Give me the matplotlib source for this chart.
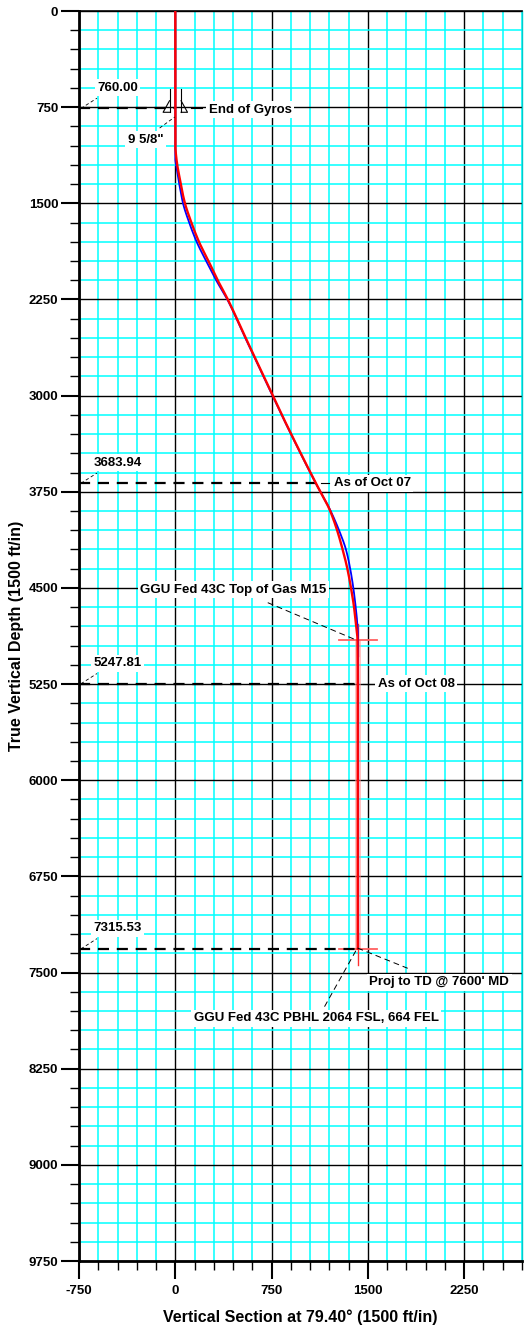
import matplotlib
matplotlib.use("Agg")
import matplotlib.pyplot as plt
from matplotlib.ticker import MultipleLocator, FixedLocator
import numpy as np

plt.rcParams['font.family'] = ['Liberation Sans', 'DejaVu Sans']
plt.rcParams['font.weight'] = 'bold'
plt.rcParams['axes.unicode_minus'] = False

# ---- data ----
actual_tvd = [0, 760, 1050, 1120, 1200, 1300, 1400, 1500, 1650, 1800, 1950, 2100, 2250, 2550,
              3000, 3165, 3684, 3892, 4050, 4204, 4350, 4504, 4650, 4750, 4907, 5248, 6000, 7000, 7315]
actual_vs = [0, 0, 0, 5, 15, 33, 52, 75, 125, 184, 258, 330, 409, 548,
             760, 837, 1095, 1203, 1260, 1304, 1340, 1369, 1392, 1403, 1419, 1421, 1421, 1421, 1421]

plan_tvd = [0, 760, 1150, 1200, 1300, 1400, 1500, 1650, 1800, 1950, 2100, 2250, 2550,
            3000, 3165, 3684, 3892, 4050, 4204, 4350, 4504, 4650, 4750, 4907, 5248, 6000, 7000, 7315]
plan_vs = [0, 0, 0, 6, 22, 40, 60, 108, 166, 240, 318, 405, 545,
           757, 835, 1094, 1206, 1275, 1330, 1362, 1387, 1405, 1415, 1423, 1424, 1424, 1424, 1424]

targets_tvd = [4907, 7315]
target_vs = 1421
target_names = ["GGU Fed 43C Top of Gas M15", "GGU Fed 43C PBHL 2064 FSL, 664 FEL"]

marker_tvd = [760.00, 3683.94, 5247.81, 7315.53]
marker_vs = [0, 1095, 1421, 1421]
marker_labels = ["760.00", "3683.94", "5247.81", "7315.53"]
marker_notes = ["End of Gyros", "As of Oct 07", "As of Oct 08", "Proj to TD @ 7600' MD"]

casing_tvd = 760
casing_label = '9 5/8"'

x_ticks = [-750, 0, 750, 1500, 2250]
y_ticks = [0, 750, 1500, 2250, 3000, 3750, 4500, 5250, 6000, 6750, 7500, 8250, 9000, 9750]


def pchip(x, y, xn):
    x = np.asarray(x, float)
    y = np.asarray(y, float)
    h = np.diff(x)
    d = np.diff(y) / h
    m = np.zeros_like(y)
    for k in range(1, len(x) - 1):
        if d[k - 1] * d[k] > 0:
            w1 = 2 * h[k] + h[k - 1]
            w2 = h[k] + 2 * h[k - 1]
            m[k] = (w1 + w2) / (w1 / d[k - 1] + w2 / d[k])
    m[0] = d[0]
    m[-1] = d[-1]
    idx = np.clip(np.searchsorted(x, xn) - 1, 0, len(x) - 2)
    t = (xn - x[idx]) / h[idx]
    h00 = 2 * t**3 - 3 * t**2 + 1
    h10 = t**3 - 2 * t**2 + t
    h01 = -2 * t**3 + 3 * t**2
    h11 = t**3 - t**2
    return h00 * y[idx] + h10 * h[idx] * m[idx] + h01 * y[idx + 1] + h11 * h[idx] * m[idx + 1]


W, H = 524, 1332
fig = plt.figure(figsize=(W / 100, H / 100), dpi=100)
ax = fig.add_axes([79 / W, 1 - 1261 / H, (522 - 79) / W, (1261 - 11) / H])

ax.set_xlim(-750, 2700)
ax.set_ylim(9750, 0)

ax.xaxis.set_major_locator(FixedLocator(x_ticks))
ax.xaxis.set_minor_locator(MultipleLocator(150))
ax.yaxis.set_major_locator(FixedLocator(y_ticks))
ax.yaxis.set_minor_locator(MultipleLocator(150))

ax.set_axisbelow(True)
ax.grid(which='minor', color='#00ffff', lw=1.1)
ax.grid(which='major', color='black', lw=1.0)
ax.tick_params(which='major', direction='out', length=13, width=1.5, labelsize=9.5, pad=2)
ax.tick_params(which='minor', direction='out', length=6.5, width=1.0)
ax.tick_params(axis='x', pad=4)
for lab in ax.get_xticklabels() + ax.get_yticklabels():
    lab.set_fontweight('bold')

ax.spines['left'].set_linewidth(2)
ax.spines['bottom'].set_linewidth(2)
ax.spines['top'].set_linewidth(1.2)
ax.spines['right'].set_color('#00cccc')
ax.spines['right'].set_linewidth(1)

# target corridor
ax.fill_betweenx([targets_tvd[0], targets_tvd[1]], target_vs - 25, target_vs + 25,
                 color='#ff9090', alpha=0.55, lw=0, zorder=2)
for t in targets_tvd:
    ax.plot([target_vs - 150, target_vs + 150], [t, t], color='#ff6060', lw=1.3, zorder=3)
    ax.plot([target_vs, target_vs], [t - 125, t + 125], color='#ff3030', lw=1.0, zorder=3)

# marker dashed lines
for t, v in zip(marker_tvd, marker_vs):
    ax.plot([-750, v], [t, t], color='black', lw=1.6, ls=(0, (5, 3.5)), zorder=4)

# curves (smooth interpolation through read points)
tn_p = np.linspace(0, plan_tvd[-1], 1500)
tn_a = np.linspace(0, actual_tvd[-1], 1500)
ax.plot(pchip(plan_tvd, plan_vs, tn_p), tn_p, color='#0000ff', lw=1.3, zorder=5)
ax.plot(pchip(actual_tvd, actual_vs, tn_a), tn_a, color='#ff0000', lw=1.7, zorder=6)

bbox = dict(facecolor='white', edgecolor='none', pad=1.8)
tk = dict(fontsize=9.5, fontweight='bold', bbox=bbox, zorder=8)

# marker depth labels with leaders
for t, lab in zip(marker_tvd, marker_labels):
    ax.plot([-735, -610], [t, t - 80], color='black', lw=0.6, ls=(0, (4, 3)), zorder=7)
    ax.text(-450, t - 160, lab, ha='center', va='center', **tk)

# notes
note_pos = [(585, 770), (1535, 3684), (1875, 5248), (2056, 7575)]
note_leads = [((120, 210), (760, 760)), ((1136, 1200), (3684, 3684)),
              ((1460, 1564), (5248, 5248))]
for (x, y), lab in zip(note_pos, marker_notes):
    ax.text(x, y, lab, ha='center', va='center', **tk)
for xs, ys in note_leads:
    ax.plot(xs, ys, color='black', lw=0.8, zorder=7)
ax.plot([1419, 1810], [7309, 7467], color='black', lw=0.7, ls=(0, (6, 4)), zorder=7)

# target labels
ax.text(454, 4516, target_names[0], ha='center', va='center', **tk)
ax.plot([720, 1408], [4615, 4906], color='black', lw=0.7, ls=(0, (6, 4)), zorder=7)
ax.text(1097, 7857, target_names[1], ha='center', va='center', **tk)
ax.plot([1162, 1418], [7766, 7309], color='black', lw=0.7, ls=(0, (6, 4)), zorder=7)

# casing symbol
c = casing_tvd
ax.plot([-45, -45], [c - 150, c + 30], color='black', lw=0.8, zorder=7)
ax.plot([45, 45], [c - 150, c + 30], color='black', lw=0.8, zorder=7)
ax.plot([-45, -95, -45], [c - 60, c + 30, c + 30], color='black', lw=0.8, zorder=7)
ax.plot([45, 95, 45], [c - 60, c + 30, c + 30], color='black', lw=0.8, zorder=7)
ax.plot([-122, -5], [913, 827], color='black', lw=0.6, ls=(0, (4, 3)), zorder=7)
ax.text(-233, 1006, casing_label, ha='center', va='center', **tk)

fig.text(17 / W, 1 - 636 / H, "True Vertical Depth (1500 ft/in)", rotation=90,
         ha='center', va='center', fontsize=11.5, fontweight='bold')
fig.text(300 / W, 1 - 1317 / H, "Vertical Section at 79.40° (1500 ft/in)",
         ha='center', va='center', fontsize=11.5, fontweight='bold')

fig.savefig("out.png", dpi=100)
